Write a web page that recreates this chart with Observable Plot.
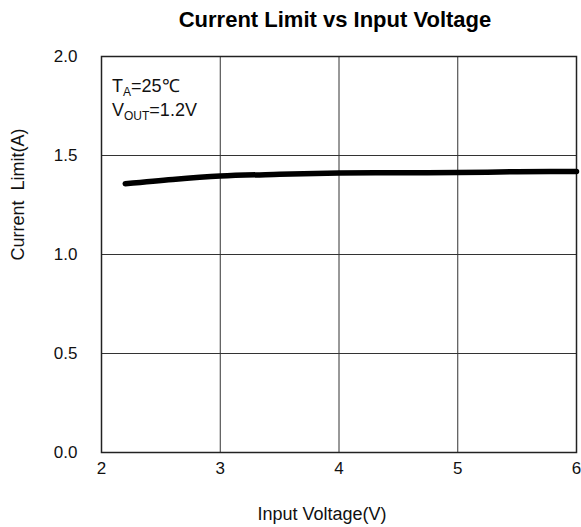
<!DOCTYPE html>
<html><head><meta charset="utf-8">
<script src="https://cdn.jsdelivr.net/npm/d3@7"></script>
<script src="https://cdn.jsdelivr.net/npm/@observablehq/plot@0.6"></script>
<style>
body{margin:0;background:#fff;font-family:"Liberation Sans",Arial,sans-serif;}
#title{height:40px;line-height:40px;font-size:22px;font-weight:bold;text-align:center;padding-left:89px;width:492px;color:#000;white-space:nowrap;}
</style></head><body>
<div id="title">Current Limit vs Input Voltage</div>
<div id="chart"></div>
<script>
const inputVoltage = [2.2, 2.6, 3.0, 3.5, 4.0, 4.5, 5.0, 5.5, 6.0];
const currentLimit = [1.357, 1.379, 1.396, 1.405, 1.411, 1.413, 1.414, 1.418, 1.419];
const xTicks = [2, 3, 4, 5, 6];
const yTicks = [0, 0.5, 1.0, 1.5, 2.0];
const xLabel = "Input Voltage(V)";
const yLabel = "Current\u00a0 Limit(A)";

const data = inputVoltage.map((v, k) => ({v, c: currentLimit[k]}));
const font = "'Liberation Sans', Arial, sans-serif";

const plot = Plot.plot({
  width: 581, height: 487,
  marginTop: 16, marginBottom: 75, marginLeft: 101, marginRight: 5,
  style: {fontFamily: font, fontSize: "17px", color: "#111", background: "#fff", overflow: "visible"},
  x: {domain: [2, 6], ticks: xTicks},
  y: {domain: [0, 2], ticks: yTicks},
  marks: [
    Plot.gridX(xTicks, {stroke: "#333", strokeOpacity: 1, strokeWidth: 1}),
    Plot.gridY(yTicks, {stroke: "#333", strokeOpacity: 1, strokeWidth: 1}),
    Plot.frame({stroke: "#222", strokeWidth: 1.5}),
    Plot.axisX(xTicks, {tickSize: 0, tickPadding: 9, label: null, fontSize: 17, tickFormat: d => String(d)}),
    Plot.axisY(yTicks, {tickSize: 0, tickPadding: 24, label: null, fontSize: 17, tickFormat: d => d.toFixed(1)}),
    Plot.line(data, {x: "v", y: "c", stroke: "#000", strokeWidth: 5.5, curve: "monotone-x", strokeLinecap: "round"}),
    Plot.text([xLabel], {text: d => d, frameAnchor: "bottom", dx: -17, dy: 62, lineAnchor: "middle", fontSize: 18, fill: "#111"}),
    Plot.text([yLabel], {text: d => d, frameAnchor: "left", rotate: -90, dx: -83, dy: 6, lineAnchor: "middle", fontSize: 18, fill: "#111"})
  ]
});
document.getElementById("chart").appendChild(plot);

// annotation with subscripts
const xs = plot.scale("x"), ys = plot.scale("y");
const ax = xs.apply(2) + 11, ay = ys.apply(2);
const svg = d3.select(plot);
const g = svg.append("g").attr("font-family", font).attr("fill", "#111").attr("text-anchor", "start");
const t1 = g.append("text").attr("x", ax).attr("y", ay + 36).attr("font-size", 18);
t1.append("tspan").text("T");
t1.append("tspan").attr("font-size", 12).attr("dy", 4).text("A");
t1.append("tspan").attr("dy", -4).text("=25\u2103");
const t2 = g.append("text").attr("x", ax).attr("y", ay + 60).attr("font-size", 18);
t2.append("tspan").text("V");
t2.append("tspan").attr("font-size", 12).attr("dy", 4).text("OUT");
t2.append("tspan").attr("dy", -4).text("=1.2V");
</script>
</body></html>
